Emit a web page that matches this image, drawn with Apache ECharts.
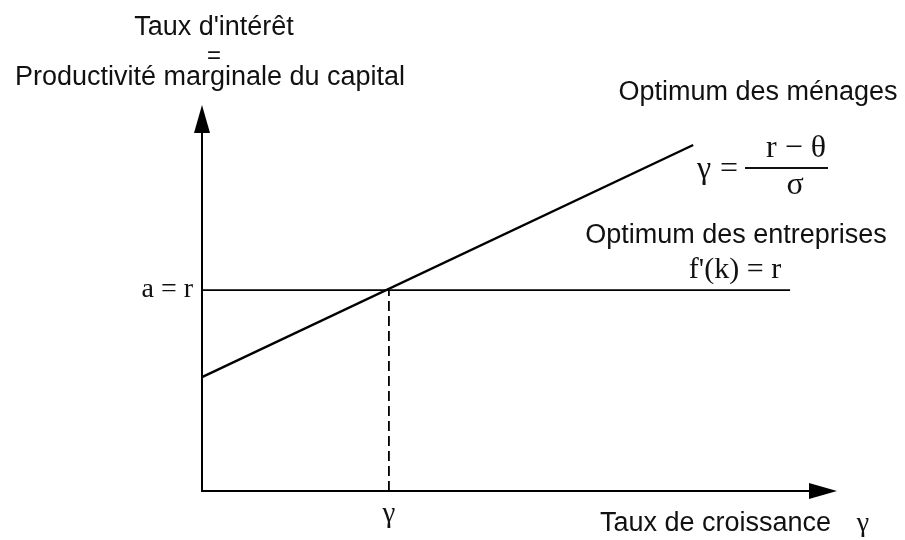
<!DOCTYPE html>
<html>
<head>
<meta charset="utf-8">
<script src="https://cdn.jsdelivr.net/npm/echarts@6/dist/echarts.min.js"></script>
<style>
  html, body { margin: 0; padding: 0; background: #fff; }
  #chart { width: 905px; height: 540px; }
</style>
</head>
<body>
<div id="chart"></div>
<script>
// taux d'intérêt d'équilibre (a = r) et taux de croissance correspondant
var rate = 54;
var gammaStar = 30.1;
// droite des entreprises : f'(k) = r
var firmsX = [0, 94.7];
// droite des ménages : gamma = (r - theta) / sigma
var householdsX = [0, 79.1];
var householdsY = [30.6, 93];

var sans = 'Liberation Sans, Arial, Helvetica, sans-serif';
var serif = 'Liberation Serif, Times New Roman, serif';

var firms = firmsX.map(function (x) { return [x, rate]; });
var households = householdsX.map(function (x, i) { return [x, householdsY[i]]; });
var dashed = [[gammaStar, 0], [gammaStar, rate]];

var axisLine = {
  show: true,
  symbol: ['none', 'triangle'],
  symbolSize: [16, 28],
  lineStyle: { color: '#000', width: 2 }
};

function txt(x, y, text, font, align) {
  return {
    type: 'text',
    style: {
      x: x, y: y, text: text, font: font, fill: '#111',
      textAlign: align || 'center', textVerticalAlign: 'middle'
    }
  };
}

var myChart = echarts.init(document.getElementById('chart'));

var option = {
  backgroundColor: '#fff',
  animation: false,
  grid: { left: 202, right: 82, top: 119, bottom: 49 },
  xAxis: {
    type: 'value',
    min: 0,
    max: 100,
    axisLine: axisLine,
    axisTick: { show: false },
    splitLine: { show: false },
    axisLabel: {
      customValues: [gammaStar],
      formatter: function () { return 'γ'; },
      color: '#111',
      fontFamily: serif,
      fontSize: 29,
      margin: 9
    }
  },
  yAxis: {
    type: 'value',
    min: 0,
    max: 100,
    axisLine: axisLine,
    axisTick: { show: false },
    splitLine: { show: false },
    axisLabel: {
      customValues: [rate],
      formatter: function () { return 'a = r'; },
      color: '#111',
      fontFamily: serif,
      fontSize: 28,
      margin: 9
    }
  },
  series: [
    {
      type: 'line',
      data: firms,
      symbol: 'none',
      lineStyle: { color: '#000', width: 1.8 }
    },
    {
      type: 'line',
      data: households,
      symbol: 'none',
      lineStyle: { color: '#000', width: 2.4 }
    },
    {
      type: 'line',
      data: dashed,
      symbol: 'none',
      lineStyle: { color: '#000', width: 1.8, type: [10, 5] }
    }
  ],
  graphic: [
    txt(214, 28, "Taux d'intérêt", '27px ' + sans),
    txt(214, 56, '=', '24px ' + sans),
    txt(210, 78, 'Productivité marginale du capital', '27px ' + sans),
    txt(758, 93, 'Optimum des ménages', '27px ' + sans),
    txt(697, 170, 'γ', '32px ' + serif, 'left'),
    txt(729, 170, '=', '32px ' + serif),
    txt(796, 149, 'r − θ', '32px ' + serif),
    { type: 'line', shape: { x1: 745, y1: 168, x2: 828, y2: 168 }, style: { stroke: '#111', lineWidth: 2 } },
    txt(795, 186, 'σ', '32px ' + serif),
    txt(736, 236, 'Optimum des entreprises', '27px ' + sans),
    txt(735, 270, "f'(k) = r", '30px ' + serif),
    txt(600, 524, 'Taux de croissance', '27px ' + sans, 'left'),
    txt(863, 524, 'γ', '28px ' + serif)
  ]
};

myChart.setOption(option);
</script>
</body>
</html>
